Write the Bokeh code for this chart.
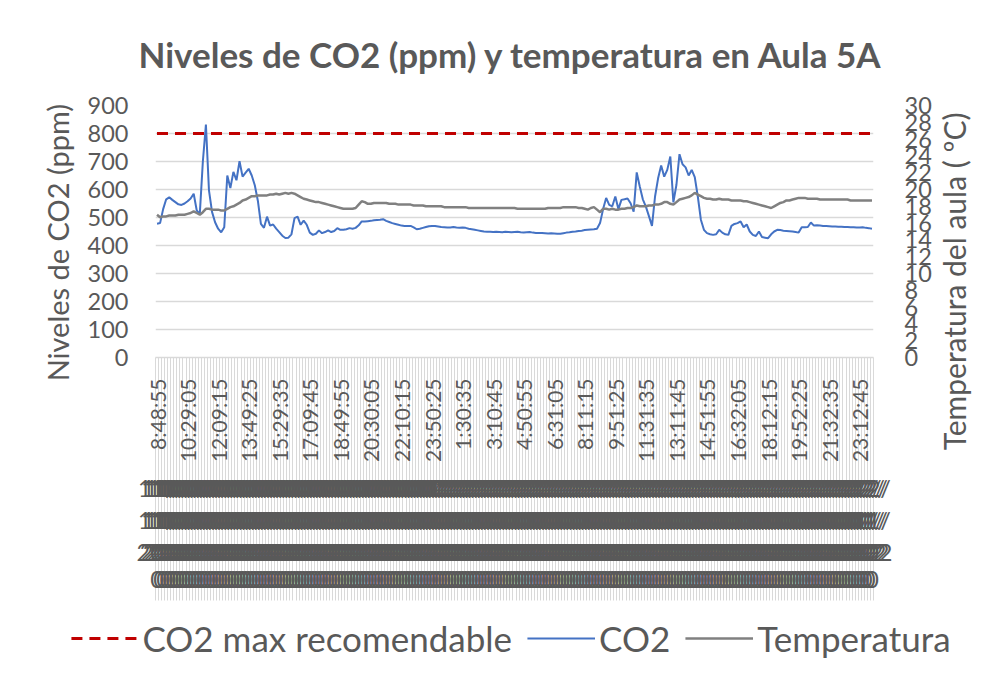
import math
from bokeh.plotting import figure
from bokeh.layouts import row, column
from bokeh.models import Range1d, LinearAxis, FixedTicker, Legend, LegendItem, ColumnDataSource
from bokeh.core.validation import silence
from bokeh.core.validation.warnings import MISSING_RENDERERS
from bokeh.embed import file_html
from bokeh.resources import INLINE

silence(MISSING_RENDERERS, True)

TITLE = "Niveles de CO2 (ppm) y temperatura en Aula 5A"
Y_LABEL = "Niveles de CO2 (ppm)"
Y2_LABEL = "Temperatura del aula ( ºC)"

CO2_MAX = 800

CO2 = [
    478, 480, 530, 565, 572, 563, 555, 547, 545, 550,
    558, 568, 585, 525, 513, 700, 832, 597, 520, 483,
    460, 447, 465, 650, 605, 663, 633, 701, 646, 660,
    674, 650, 615, 560, 477, 463, 503, 471, 475, 460,
    448, 435, 427, 428, 440, 498, 503, 474, 489, 474,
    446, 438, 442, 454, 444, 448, 454, 448, 452, 462,
    456, 456, 458, 462, 460, 463, 472, 486, 486, 487,
    488, 490, 491, 492, 494, 488, 484, 480, 477, 474,
    471, 470, 470, 470, 465, 458, 460, 463, 466, 469,
    470, 470, 468, 466, 465, 464, 464, 466, 464, 463,
    464, 463, 460, 458, 456, 454, 452, 450, 449, 449,
    448, 449, 448, 447, 449, 448, 447, 448, 449, 447,
    446, 447, 448, 446, 445, 445, 445, 444, 443, 444,
    443, 442, 442, 444, 446, 447, 449, 450, 452, 453,
    455, 456, 457, 458, 460, 480, 530, 570, 545, 540,
    575, 530, 563, 565, 568, 551, 521, 661, 611, 565,
    539, 505, 470, 575, 640, 686, 646, 670, 718, 554,
    617, 726, 690, 679, 650, 670, 644, 575, 492, 456,
    444, 440, 438, 440, 456, 446, 440, 438, 470, 477,
    480, 486, 465, 475, 450, 438, 434, 450, 430, 428,
    426, 440, 450, 456, 455, 453, 452, 451, 450, 448,
    446, 465, 465, 466, 482, 471, 472, 471, 470, 470,
    469, 468, 468, 467, 467, 466, 466, 465, 465, 464,
    464, 465, 463, 462, 460,
]

TEMP = [
    17.0, 16.7, 16.8, 16.8, 16.9, 16.9, 16.9, 17.0, 17.0, 17.0,
    17.1, 17.2, 17.4, 17.2, 17.0, 17.3, 17.7, 17.7, 17.6, 17.6,
    17.6, 17.5, 17.5, 17.7, 17.9, 18.0, 18.2, 18.4, 18.7, 18.8,
    19.0, 19.2, 19.2, 19.3, 19.3, 19.3, 19.3, 19.4, 19.4, 19.5,
    19.4, 19.5, 19.6, 19.5, 19.6, 19.5, 19.3, 19.1, 18.9, 18.8,
    18.7, 18.6, 18.5, 18.5, 18.4, 18.3, 18.2, 18.1, 18.0, 17.9,
    17.8, 17.7, 17.7, 17.7, 17.7, 17.8, 18.2, 18.6, 18.5, 18.3,
    18.3, 18.4, 18.4, 18.4, 18.4, 18.4, 18.3, 18.3, 18.3, 18.2,
    18.2, 18.2, 18.2, 18.2, 18.1, 18.1, 18.1, 18.1, 18.0, 18.0,
    18.0, 18.0, 18.0, 18.0, 17.9, 17.9, 17.9, 17.9, 17.9, 17.9,
    17.9, 17.9, 17.8, 17.8, 17.8, 17.8, 17.8, 17.8, 17.8, 17.8,
    17.8, 17.8, 17.8, 17.8, 17.8, 17.8, 17.8, 17.8, 17.7, 17.7,
    17.7, 17.7, 17.7, 17.7, 17.7, 17.7, 17.7, 17.7, 17.8, 17.8,
    17.8, 17.8, 17.8, 17.9, 17.9, 17.9, 17.9, 17.9, 17.8, 17.8,
    17.7, 17.6, 17.8, 17.9, 17.6, 17.3, 17.7, 17.7, 17.6, 17.7,
    17.6, 17.6, 17.7, 17.7, 17.8, 17.8, 17.9, 18.1, 18.0, 18.0,
    18.0, 18.1, 18.1, 18.2, 18.2, 18.3, 18.5, 18.5, 18.3, 18.2,
    18.5, 18.8, 18.9, 19.0, 19.1, 19.3, 19.6, 19.4, 19.2, 19.0,
    18.9, 18.9, 18.8, 18.8, 18.9, 18.8, 18.8, 18.8, 18.7, 18.7,
    18.7, 18.7, 18.6, 18.6, 18.5, 18.4, 18.3, 18.2, 18.1, 18.0,
    17.9, 17.8, 18.0, 18.2, 18.4, 18.5, 18.7, 18.7, 18.8, 18.9,
    19.0, 19.0, 19.0, 18.9, 18.9, 18.9, 18.9, 18.8, 18.8, 18.8,
    18.8, 18.8, 18.8, 18.8, 18.8, 18.8, 18.8, 18.7, 18.7, 18.7,
    18.7, 18.7, 18.7, 18.7, 18.7,
]

TIME_LABELS = [
    "8:48:55", "10:29:05", "12:09:15", "13:49:25", "15:29:35", "17:09:45",
    "18:49:55", "20:30:05", "22:10:15", "23:50:25", "1:30:35", "3:10:45",
    "4:50:55", "6:31:05", "8:11:15", "9:51:25", "11:31:35", "13:11:45",
    "14:51:55", "16:32:05", "18:12:15", "19:52:25", "21:32:35", "23:12:45",
]
TIME_LABEL_EVERY = 10

DATES = ["11/11/2020", "12/11/2020"]
DATE_COUNTS = [91, 144]

CO2_TICKS = list(range(0, 901, 100))
TEMP_TICKS = list(range(0, 31, 2))

# ---------------------------------------------------------------
N = len(CO2)
idx = list(range(N))
src = ColumnDataSource(dict(i=idx, co2=CO2, temp=TEMP, lim=[CO2_MAX] * N))

per_sample_date = []
for d, c in zip(DATES, DATE_COUNTS):
    per_sample_date += [d] * c
# Excel wraps each date label into 4 lines
date_rows = [[d[0:3] for d in per_sample_date],
             [d[3:6] for d in per_sample_date],
             [d[6:9] for d in per_sample_date],
             [d[9:] for d in per_sample_date]]

FONT = "Lato"
TXT = "#595959"
GRID = "#d9d9d9"
SEP_LEN = 243
TICK_FS = "23.5px"
TITLE_H = 81
MAIN_H = 524
LEG_H = 57
TOP_B = 24
BOT_B = 248
SIDE_L = 44
RED, BLUE, GRAY = "#c00000", "#4472c4", "#808080"
NBSP = "\u00a0"

# ---------------- title ----------------
pt = figure(width=977, height=TITLE_H, output_backend="svg", toolbar_location=None,
            title=TITLE, x_range=Range1d(0, 1), y_range=Range1d(0, 1),
            x_axis_type=None, y_axis_type=None,
            min_border_left=SIDE_L, min_border_right=0,
            min_border_top=TITLE_H - 1, min_border_bottom=0)
pt.outline_line_color = None
pt.title.align = "center"
pt.title.text_font = FONT
pt.title.text_font_style = "bold"
pt.title.text_font_size = "35px"
pt.title.text_color = TXT
pt.title.standoff = 12

# ---------------- main chart ----------------
p = figure(width=855, height=MAIN_H, output_backend="svg", toolbar_location=None,
           title=None, x_range=Range1d(-0.5, N - 0.5), y_range=Range1d(0, 900),
           x_axis_type=None,
           min_border_left=75, min_border_right=62,
           min_border_top=TOP_B, min_border_bottom=BOT_B)
p.outline_line_color = None
p.extra_y_ranges = {"temp": Range1d(0, 30)}

ya = p.yaxis[0]
ya.ticker = FixedTicker(ticks=CO2_TICKS)
ya.axis_line_color = None
ya.major_tick_line_color = None
ya.minor_tick_line_color = None
ya.major_label_text_font = FONT
ya.major_label_text_font_size = TICK_FS
ya.major_label_text_color = TXT
ya.major_label_standoff = 21

p.ygrid.ticker = FixedTicker(ticks=CO2_TICKS)
p.ygrid.grid_line_color = GRID
p.ygrid.grid_line_width = 1.5

ra = LinearAxis(y_range_name="temp", ticker=FixedTicker(ticks=TEMP_TICKS))
ra.axis_line_color = None
ra.major_tick_line_color = None
ra.minor_tick_line_color = None
ra.major_label_text_font = FONT
ra.major_label_text_font_size = TICK_FS
ra.major_label_text_color = TXT
ra.major_label_standoff = 25
p.add_layout(ra, "right")

# time axis; category separators drawn as long minor ticks
label_pos = [k * TIME_LABEL_EVERY for k in range(len(TIME_LABELS))]
tax = LinearAxis(ticker=FixedTicker(ticks=label_pos,
                                    minor_ticks=[k - 0.5 for k in range(N + 1)]))
tax.major_label_overrides = {pos: lab for pos, lab in zip(label_pos, TIME_LABELS)}
tax.major_label_orientation = math.pi / 2
tax.major_tick_in = 0
tax.major_tick_out = 0
tax.minor_tick_in = 0
tax.minor_tick_out = SEP_LEN
tax.minor_tick_line_color = GRID
tax.minor_tick_line_width = 1
tax.axis_line_color = GRID
tax.axis_line_width = 1.5
tax.major_label_text_font = FONT
tax.major_label_text_font_size = "21px"
tax.major_label_text_color = TXT
tax.major_label_standoff = 21 - SEP_LEN
p.add_layout(tax, "below")

ROW_STANDOFF = [2, -5, 1, 1]
for r, row_labels in enumerate(date_rows):
    dax = LinearAxis(ticker=FixedTicker(ticks=idx))
    dax.major_label_overrides = {i: s for i, s in zip(idx, row_labels)}
    dax.axis_line_color = None
    dax.major_tick_line_color = None
    dax.minor_tick_line_color = None
    dax.major_label_text_font = FONT
    dax.major_label_text_font_size = TICK_FS
    dax.major_label_text_color = TXT
    dax.major_label_standoff = ROW_STANDOFF[r]
    p.add_layout(dax, "below")

p.line("i", "lim", source=src, line_color=RED, line_width=3, line_dash="11 7")
p.line("i", "co2", source=src, line_color=BLUE, line_width=2)
p.line("i", "temp", source=src, y_range_name="temp", line_color=GRAY, line_width=2.5)


# ---------------- axis titles (read bottom-to-top, like Excel) ----------------
def side_label(text, width, left, font_size):
    f = figure(width=width, height=MAIN_H, output_backend="svg", toolbar_location=None,
               title=None, x_range=Range1d(0, 1), y_range=Range1d(0, 1), x_axis_type=None,
               min_border_left=left, min_border_right=width - left - 1,
               min_border_top=TOP_B, min_border_bottom=BOT_B)
    f.outline_line_color = None
    f.ygrid.visible = False
    ax = f.yaxis[0]
    ax.ticker = FixedTicker(ticks=[])
    ax.axis_line_color = None
    ax.major_tick_line_color = None
    ax.minor_tick_line_color = None
    ax.axis_label = text
    ax.axis_label_text_font = FONT
    ax.axis_label_text_font_size = font_size
    ax.axis_label_text_font_style = "normal"
    ax.axis_label_text_color = TXT
    ax.axis_label_standoff = 0
    return f


# trailing no-break spaces push each title towards the bottom, as in the original
p_left = side_label(Y_LABEL + NBSP * 3, 80, 74, "29px")
p_right = side_label(Y2_LABEL + NBSP * 13, 42, 35, "30px")

# ---------------- legend ----------------
pl = figure(width=977, height=LEG_H, output_backend="svg", toolbar_location=None,
            title=None, x_range=Range1d(-0.5, N - 0.5), y_range=Range1d(-2, -1),
            x_axis_type=None, y_axis_type=None,
            min_border_left=SIDE_L, min_border_right=0, min_border_top=9, min_border_bottom=0)
pl.outline_line_color = None
pl.grid.visible = False
# same series; the empty range keeps them out of view, only their legend swatches show
l_max = pl.line("i", "lim", source=src, line_color=RED, line_width=3, line_dash="11 7")
l_co2 = pl.line("i", "co2", source=src, line_color=BLUE, line_width=2)
l_tmp = pl.line("i", "temp", source=src, line_color=GRAY, line_width=2.5)

legend = Legend(items=[LegendItem(label="CO2 max recomendable", renderers=[l_max]),
                       LegendItem(label="CO2", renderers=[l_co2]),
                       LegendItem(label="Temperatura", renderers=[l_tmp])],
                orientation="horizontal", location="center")
legend.label_text_font = FONT
legend.label_text_font_size = "35px"
legend.label_text_color = TXT
legend.glyph_width = 68
legend.label_standoff = 4
legend.spacing = 15
legend.border_line_color = None
legend.background_fill_alpha = 0
legend.margin = 0
legend.padding = 0
pl.add_layout(legend, "center")

page = column(pt, row(p_left, p, p_right), pl)
open("out.html", "w").write(file_html(page, INLINE))
